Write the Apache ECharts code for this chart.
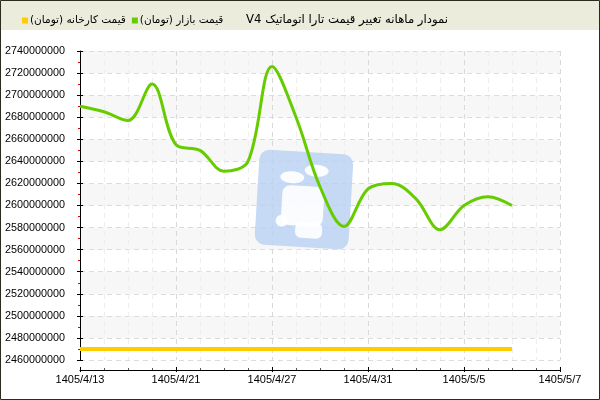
<!DOCTYPE html>
<html>
<head>
<meta charset="utf-8">
<script src="https://cdn.jsdelivr.net/npm/echarts@6/dist/echarts.min.js"></script>
<style>
html,body{margin:0;padding:0;background:#fff;}
#c{width:600px;height:400px;}
</style>
</head>
<body>
<div id="c" dir="rtl"></div>
<script>
var titleText = 'نمودار ماهانه تغییر قیمت تارا اتوماتیک V4';
var seriesNames = ['قیمت کارخانه (تومان)', 'قیمت بازار (تومان)'];
var xLabels = ['1405/4/13', '1405/4/21', '1405/4/27', '1405/4/31', '1405/5/5', '1405/5/7'];
var marketPrice = [2690000000, 2685000000, 2677000000, 2710000000, 2655000000, 2650000000, 2631000000, 2640000000, 2726000000, 2680000000, 2617000000, 2581000000, 2615000000, 2620000000, 2606000000, 2578000000, 2600000000, 2608000000, 2600000000];
var factoryPrice = [2470000000, 2470000000, 2470000000, 2470000000, 2470000000, 2470000000, 2470000000, 2470000000, 2470000000, 2470000000, 2470000000, 2470000000, 2470000000, 2470000000, 2470000000, 2470000000, 2470000000, 2470000000, 2470000000];
var yMin = 2460000000, yMax = 2740000000, yStep = 20000000;

var font = 'Liberation Sans, Arial, sans-serif';
var chart = echarts.init(document.getElementById('c'), null, {renderer: 'canvas'});

function pairs(arr){ return arr.map(function(v, i){ return [i, v]; }); }

var logoZ = 5;
var option = {
  animation: false,
  backgroundColor: '#ffffff',
  title: {
    text: titleText,
    right: 147, top: 9,
    textStyle: {fontSize: 11.7, fontWeight: 'normal', color: '#000', fontFamily: 'DejaVu Sans, sans-serif'}
  },
  legend: {
    left: 17, top: 10,
    itemWidth: 6, itemHeight: 6, itemGap: 6,
    icon: 'rect',
    data: seriesNames,
    textStyle: {fontSize: 10.5, color: '#000', fontFamily: 'DejaVu Sans, sans-serif', padding: [0, 0, 0, -3]}
  },
  grid: {left: 80, right: 40, top: 51, bottom: 40, containLabel: false},
  xAxis: [{
    type: 'value', min: 0, max: 20, interval: 4, offset: 10,
    axisLine: {lineStyle: {color: '#000', width: 1}},
    axisTick: {show: true, inside: true, length: 3, lineStyle: {color: '#000'}},
    minorTick: {show: true, splitNumber: 4, length: 2, lineStyle: {color: '#555'}},
    axisLabel: {margin: 4, fontSize: 11, color: '#000', fontFamily: font,
      formatter: function(v){ return xLabels[v / 4] || ''; }},
    splitLine: {show: true, lineStyle: {color: '#d9d9d9', type: [5, 4]}},
    minorSplitLine: {show: true, lineStyle: {color: '#eeeeee', type: [5, 4]}}
  }, {
    type: 'value', min: 0, max: 20, interval: 4, offset: 10, position: 'bottom',
    axisLine: {show: false},
    axisTick: {show: true, inside: false, length: 2, lineStyle: {color: '#000'}},
    axisLabel: {show: false}, splitLine: {show: false}
  }],
  yAxis: [{
    type: 'value', min: yMin, max: yMax, interval: yStep, offset: 10,
    axisLine: {show: true, lineStyle: {color: '#000', width: 1}},
    axisTick: {show: true, inside: false, length: 3, lineStyle: {color: '#000'}},
    minorTick: {show: true, splitNumber: 2, length: 2, lineStyle: {color: '#e00000'}},
    axisLabel: {margin: 5, fontSize: 10.8, color: '#000', fontFamily: font,
      formatter: function(v){ return String(v); }},
    splitLine: {show: true, lineStyle: {color: '#dcdcdc', type: [5, 4]}},
    splitArea: {show: true, areaStyle: {color: ['#ffffff', '#f7f7f7']}}
  }, {
    type: 'value', min: yMin, max: yMax, interval: yStep, offset: 10, position: 'left',
    axisLine: {show: false},
    axisTick: {show: true, inside: true, length: 3, lineStyle: {color: '#000'}},
    axisLabel: {show: false}, splitLine: {show: false}
  }],
  graphic: {elements: [
    {type: 'rect', z: -10, silent: true, shape: {x: 0, y: 0, width: 600, height: 30}, style: {fill: '#ececdc'}},
    {type: 'rect', z: logoZ, silent: true, originX: 304, originY: 199, rotation: -0.06,
      shape: {x: 257, y: 152, width: 94, height: 95, r: 10}, style: {fill: '#b8cff2', opacity: 0.8}},
    {type: 'ellipse', z: logoZ + 1, silent: true, originX: 304, originY: 199, rotation: -0.06,
      shape: {cx: 291, cy: 178, rx: 12, ry: 6}, style: {fill: '#fff', opacity: 0.9}},
    {type: 'ellipse', z: logoZ + 1, silent: true, originX: 304, originY: 199, rotation: -0.06,
      shape: {cx: 315, cy: 170, rx: 12, ry: 6}, style: {fill: '#fff', opacity: 0.9}},
    {type: 'rect', z: logoZ + 1, silent: true, originX: 304, originY: 199, rotation: -0.06,
      shape: {x: 282, y: 186, width: 42, height: 40, r: 8}, style: {fill: '#fff', opacity: 0.9}},
    {type: 'ellipse', z: logoZ + 1, silent: true, originX: 304, originY: 199, rotation: -0.06,
      shape: {cx: 283, cy: 222, rx: 6, ry: 6}, style: {fill: '#fff', opacity: 0.9}},
    {type: 'rect', z: logoZ + 1, silent: true, originX: 304, originY: 199, rotation: -0.06,
      shape: {x: 297, y: 222, width: 27, height: 16, r: 6}, style: {fill: '#fff', opacity: 0.9}},
    {type: 'rect', z: 100, silent: true, shape: {x: 0.5, y: 0.5, width: 599, height: 399}, style: {fill: 'none', stroke: '#2b2b20', lineWidth: 1}}
  ]},
  series: [{
    name: seriesNames[0], type: 'line', xAxisIndex: 0, yAxisIndex: 0, z: 10,
    data: pairs(factoryPrice), showSymbol: false, symbol: 'none',
    itemStyle: {color: '#ffcc00'},
    lineStyle: {color: '#ffcc00', width: 4}
  }, {
    name: seriesNames[1], type: 'line', xAxisIndex: 0, yAxisIndex: 0, z: 11,
    data: pairs(marketPrice), showSymbol: false, symbol: 'none', smooth: 0.35,
    itemStyle: {color: '#66cc00'},
    lineStyle: {color: '#66cc00', width: 3}
  }]
};
chart.setOption(option);
</script>
</body>
</html>
